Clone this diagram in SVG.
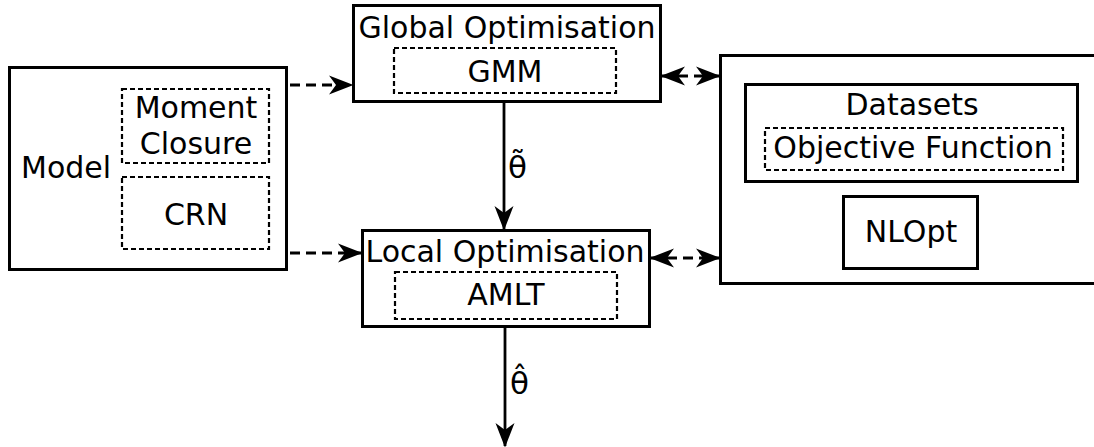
<svg xmlns="http://www.w3.org/2000/svg" width="1094" height="447" viewBox="0 0 1094 447">
<style>
text{font-family:"DejaVu Sans",sans-serif;font-size:30px;fill:#000}
.box{fill:#fff;stroke:#000;stroke-width:3}
.dbox{fill:none;stroke:#000;stroke-width:2.2;stroke-dasharray:5 3}
.c{fill:none;stroke:#000;stroke-width:2.8}
.d{stroke-dasharray:10 6}
</style>
<defs>
<marker id="ah" markerUnits="userSpaceOnUse" markerWidth="34" markerHeight="26" viewBox="-30 -13 34 26" refX="0" refY="0" orient="auto-start-reverse">
<path d="M1.5,0 L-23,-9.5 L-16,0 L-23,9.5 Z" fill="#000"/>
</marker>
</defs>
<rect width="1094" height="447" fill="#fff"/>
<g id="model">
<rect class="box" x="9.5" y="67.5" width="277" height="202"/>
<text x="21" y="178">Model</text>
<rect class="dbox" x="122" y="89" width="147" height="74"/>
<text x="196" y="118" text-anchor="middle">Moment</text>
<text x="196" y="154" text-anchor="middle">Closure</text>
<rect class="dbox" x="122" y="177" width="147" height="72"/>
<text x="196" y="225" text-anchor="middle">CRN</text>
</g>
<g id="global">
<rect class="box" x="353.5" y="5.5" width="307" height="96"/>
<text x="507" y="38" text-anchor="middle">Global Optimisation</text>
<rect class="dbox" x="394" y="48" width="222" height="45"/>
<text x="505" y="82" text-anchor="middle">GMM</text>
</g>
<g id="local">
<rect class="box" x="362.5" y="230.5" width="287" height="96"/>
<text x="505" y="262" text-anchor="middle">Local Optimisation</text>
<rect class="dbox" x="395" y="272" width="222" height="47"/>
<text x="506" y="305" text-anchor="middle">AMLT</text>
</g>
<g id="external">
<rect class="box" x="720.5" y="55.5" width="380" height="228"/>
<rect class="box" x="745.5" y="84.5" width="332" height="97"/>
<text x="912" y="115" text-anchor="middle">Datasets</text>
<rect class="dbox" x="765" y="128" width="298" height="42"/>
<text x="913" y="158" text-anchor="middle">Objective Function</text>
<rect class="box" x="843.5" y="196.5" width="134" height="72"/>
<text x="911" y="242" text-anchor="middle">NLOpt</text>
</g>
<g id="connectors">
<line class="c d" x1="290" y1="85" x2="352" y2="85" marker-end="url(#ah)"/>
<line class="c d" x1="290" y1="253" x2="361" y2="253" marker-end="url(#ah)"/>
<line class="c d" x1="662" y1="76" x2="719" y2="76" marker-start="url(#ah)" marker-end="url(#ah)"/>
<line class="c d" x1="651" y1="258" x2="719" y2="258" marker-start="url(#ah)" marker-end="url(#ah)"/>
<line class="c" x1="504" y1="102" x2="504" y2="229" marker-end="url(#ah)"/>
<line class="c" x1="505" y1="327" x2="505" y2="446" marker-end="url(#ah)"/>
<text x="508" y="178" style="font-size:31px">θ̃</text>
<text x="510" y="394" style="font-size:31px">θ̂</text>
</g>
</svg>
